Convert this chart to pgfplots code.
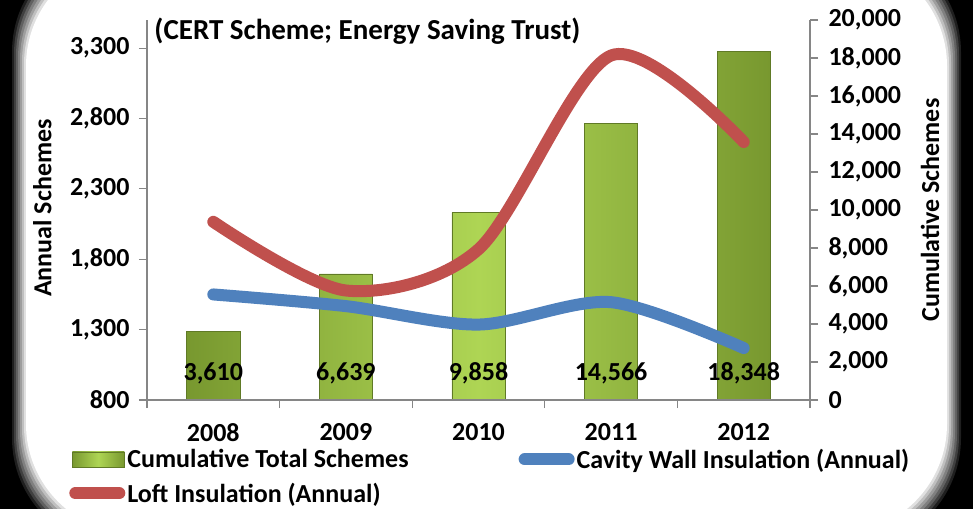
\documentclass[border=0pt]{standalone}
\usepackage{fontspec}
\setmainfont{Carlito}
\usepackage{pgfplots}
\pgfplotsset{compat=1.18}
\definecolor{redline}{HTML}{C0504D}
\definecolor{blueline}{HTML}{4F81BD}
\definecolor{bardark}{HTML}{78982F}
\definecolor{barlight}{HTML}{AED554}
\definecolor{axisgrey}{HTML}{868686}
\newcommand{\chartfont}{\fontsize{26bp}{30bp}\selectfont\bfseries}

\pgfplotsset{
  chart base/.style={
    scale only axis, width=663bp, height=380bp,
    at={(147bp,109bp)}, anchor=south west,
    xmin=-0.5, xmax=4.5,
    tick align=outside,
    axis line style={axisgrey, line width=1.2bp},
    major tick style={axisgrey, line width=1.2bp},
    major tick length=8bp,
    tick label style={font=\chartfont},
    label style={font=\chartfont},
    /pgf/number format/assume math mode=true,
    /pgf/number format/1000 sep={,},
    scaled y ticks=false,
  },
  thick line legend/.style={legend image code/.code={
    \draw[#1] (8bp,0bp) -- (52bp,0bp);}},
}

\begin{document}
\begin{tikzpicture}
% dark frame with a soft white card
\fill[black] (0,0) rectangle (973bp,509bp);
\foreach \i/\c in {0/black!88,1/black!75,2/black!62,3/black!50,4/black!38,5/black!25,6/black!12,7/white}{
  \fill[\c, rounded corners=110bp] ({12bp+2bp*\i},{-39bp+2bp*\i}) rectangle ({961bp-2bp*\i},{567bp-2bp*\i});
}

% bars on the right axis
\begin{axis}[chart base,
  ymin=0, ymax=20000,
  axis y line*=right, axis x line*=bottom,
  ytick distance=2000,
  yticklabel style={xshift=7bp},
  xtick={-0.5,0.5,...,4.5}, xticklabels={},
  ylabel={Cumulative Schemes},
  ylabel style={at={(axis description cs:1.181,0.5)}, anchor=center},
]
\addplot[ybar, bar width=0.4, draw=bardark!80!black, line width=0.6bp,
  left color=bardark, right color=bardark, middle color=barlight]
  coordinates {(0,3610) (1,6639) (2,9858) (3,14566) (4,18348)};
\addplot[draw=none, nodes near coords, point meta=explicit symbolic,
  every node near coord/.append style={anchor=center, font=\chartfont, text=black}]
  coordinates {(0,1420) [{3,610}] (1,1420) [{6,639}] (2,1420) [{9,858}] (3,1420) [{14,566}] (4,1420) [{18,348}]};
\end{axis}

% annual lines on the left axis
\begin{axis}[chart base,
  ymin=800, ymax=3500,
  axis y line*=left, axis x line*=bottom,
  ytick={800,1300,...,3300},
  yticklabel style={xshift=-6bp},
  xtick={0,...,4}, xticklabels={2008,2009,2010,2011,2012},
  major x tick style={draw=none},
  xticklabel style={yshift=-12bp},
  ylabel={Annual Schemes},
  ylabel style={at={(axis description cs:-0.158,0.505)}, anchor=center},
  title={(CERT Scheme; Energy Saving Trust)},
  title style={at={(axis description cs:0.006,0.955)}, anchor=west,
    font=\fontsize{29bp}{33bp}\selectfont\bfseries},
  legend columns=2,
  legend style={at={(-0.122,-0.118)}, anchor=north west, draw=none, fill=none,
    font=\chartfont, cells={anchor=west}, nodes={inner xsep=2bp},
    row sep=9bp, /tikz/column 2/.style={column sep=108bp}},
]
\addlegendimage{legend image code/.code={
  \filldraw[draw=bardark!80!black, left color=bardark, right color=bardark, middle color=barlight]
    (5bp,-7.5bp) rectangle (57bp,7.5bp);}}
\addplot[blueline, line width=12bp, line cap=round, smooth, thick line legend]
  coordinates {(0,1550) (1,1467) (2,1336) (3,1495) (4,1169)};
\addplot[redline, line width=12bp, line cap=round, smooth, thick line legend]
  coordinates {(0,2066) (1,1578) (2,1871) (3,3248) (4,2633)};
\legend{Cumulative Total Schemes, Cavity Wall Insulation (Annual), Loft Insulation (Annual)}
\end{axis}

\pgfresetboundingbox
\useasboundingbox (0,0) rectangle (973bp,509bp);
\end{tikzpicture}
\end{document}
